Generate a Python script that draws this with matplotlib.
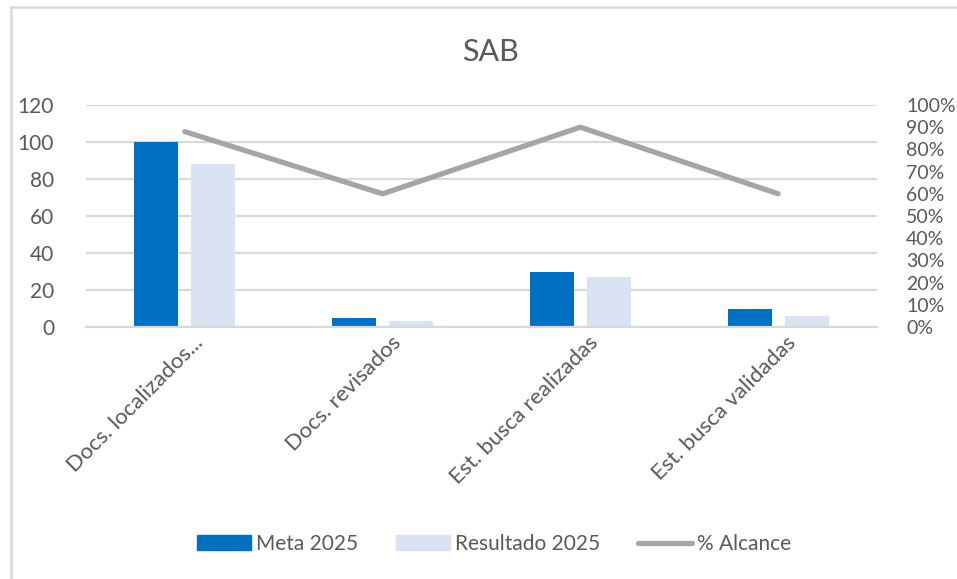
import matplotlib
matplotlib.use("Agg")
import matplotlib.pyplot as plt
import matplotlib.transforms as mtransforms
from matplotlib.lines import Line2D
from matplotlib.patches import Patch
import numpy as np

categories = ["Docs. localizados...", "Docs. revisados", "Est. busca realizadas", "Est. busca validadas"]
meta_2025 = [100, 5, 30, 10]
resultado_2025 = [88, 3, 27, 6]
alcance = [0.88, 0.60, 0.90, 0.60]
left_ticks = [0, 20, 40, 60, 80, 100, 120]
right_ticks = [0, 0.1, 0.2, 0.3, 0.4, 0.5, 0.6, 0.7, 0.8, 0.9, 1.0]

plt.rcParams['font.family'] = ['Lato', 'DejaVu Sans']
TXT = '#595959'
GRID = '#d9d9d9'
W, H = 957, 579

fig = plt.figure(figsize=(W / 100, H / 100), dpi=100)
ax = fig.add_axes([86 / W, 1 - 327 / H, (877 - 86) / W, (327 - 105) / H])
ax2 = ax.twinx()

x = np.arange(len(categories))
bw = 0.222
off = 0.144
ax.bar(x - off, meta_2025, bw, color='#0070C0', zorder=2)
ax.bar(x + off, resultado_2025, bw, color='#DAE3F3', zorder=2)
ax.set_xlim(-0.5, len(categories) - 0.5)
ax.set_ylim(0, 120)
ax.set_yticks(left_ticks)
ax.yaxis.grid(True, color=GRID, linewidth=1.6, zorder=0)
ax.set_axisbelow(True)
for s in ['top', 'right', 'left']:
    ax.spines[s].set_visible(False)
ax.spines['bottom'].set_color(GRID)
ax.spines['bottom'].set_linewidth(1.6)
ax.tick_params(axis='y', length=0, pad=23, labelsize=15, labelcolor=TXT)
ax.tick_params(axis='x', length=0, pad=4, labelsize=16, labelcolor=TXT)
ax.set_xticks(x)
ax.set_xticklabels(categories, rotation=45, ha='right', va='top', rotation_mode='anchor')
shift = mtransforms.ScaledTranslation(8 / 100, 0, fig.dpi_scale_trans)
for lab in ax.get_xticklabels():
    lab.set_transform(lab.get_transform() + shift)

ax2.plot(x, alcance, color='#A5A5A5', linewidth=3.8, solid_capstyle='round', zorder=3)
ax2.set_ylim(0, 1.0)
ax2.set_yticks(right_ticks)
ax2.set_yticklabels([f"{int(round(t * 100))}%" for t in right_ticks])
ax2.tick_params(axis='y', length=0, pad=21, labelsize=14, labelcolor=TXT)
for s in ax2.spines.values():
    s.set_visible(False)

fig.text(490 / W, 1 - 52 / H, "SAB", ha='center', va='center', fontsize=22, color=TXT)

handles = [Patch(color='#0070C0'), Patch(color='#DAE3F3'),
           Line2D([0], [0], color='#A5A5A5', linewidth=3.8, solid_capstyle='round')]
leg = fig.legend(handles, ["Meta 2025", "Resultado 2025", "% Alcance"],
                 loc='center', bbox_to_anchor=(494 / W, 1 - 544 / H), ncol=3,
                 frameon=False, fontsize=15, labelcolor=TXT,
                 handlelength=2.6, handleheight=0.7, handletextpad=0.25,
                 columnspacing=1.8)

fig.add_artist(Line2D([10.5 / W, 10.5 / W], [0, 1 - 7 / H], color=GRID, linewidth=1.8,
                      transform=fig.transFigure))
fig.add_artist(Line2D([10.5 / W, 956 / W], [1 - 7 / H, 1 - 7 / H], color=GRID, linewidth=1.8,
                      transform=fig.transFigure))

fig.savefig("out.png", dpi=100)
